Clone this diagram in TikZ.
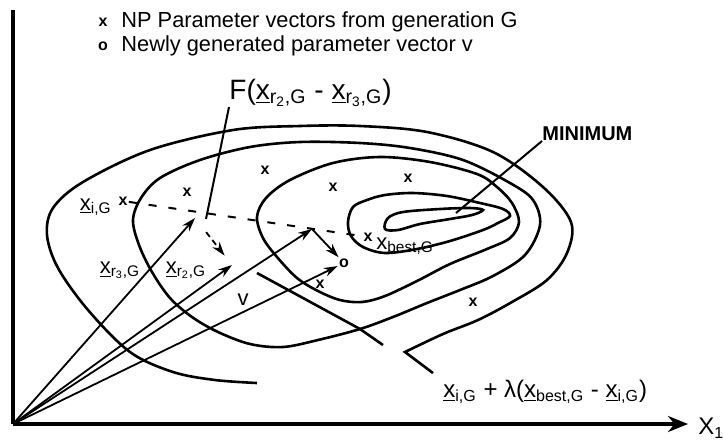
\documentclass[tikz,border=0pt]{standalone}
\usepackage{fontspec}
\setmainfont{Liberation Sans}
\usetikzlibrary{arrows.meta}

\newcommand{\vx}{\underline{x}}

\begin{document}
\begin{tikzpicture}[x=0.5pt, y=-0.5pt, font=\fontsize{11}{13}\selectfont,
  contour/.style={line width=1.3pt},
  vec/.style={line width=0.9pt, -{Stealth[length=7pt, width=4.5pt]}},
  dashline/.style={line width=1pt, dash pattern=on 4pt off 6pt},
  popmark/.style={font=\fontsize{8}{9}\selectfont\bfseries, inner sep=0.5pt},
  lbl/.style={inner sep=0pt}]
\useasboundingbox (0,0) rectangle (723,441);

% axes
\coordinate (O) at (13,424);
\coordinate (ytop) at (13,10);
\coordinate (xend) at (688,424);
\draw[line width=1.7pt] (ytop) -- (O);
\draw[line width=1.7pt, -{Stealth[length=10pt, width=8pt]}] (O) -- (xend);
\node[lbl, anchor=west, font=\fontsize{12}{14}\selectfont] (x1lbl) at (698,428) {X\textsubscript{1}};

% legend
\node[popmark] (legx) at (103,22) {x};
\node[lbl, anchor=west, font=\fontsize{10.9}{12}\selectfont] (leg1) at (121,22) {NP Parameter vectors from generation G};
\node[popmark] (lego) at (103,46) {o};
\node[lbl, anchor=west, font=\fontsize{10.9}{12}\selectfont] (leg2) at (121,46) {Newly generated parameter vector v};

% contour lines
\draw[contour] plot[smooth, tension=0.55] coordinates {(257,383) (215,380) (173,372) (130,352) (88,310) (58,268) (47,235) (53,208) (83,182) (150,150) (233,130) (300,126) (360,126) (427,132) (493,152) (543,187) (571,222) (567,253) (547,280) (512,302) (478,320) (443,334) (405,352)} -- (433,373);
\draw[contour] plot[smooth cycle, tension=0.55] coordinates {(360,329) (393,317) (427,303) (460,290) (493,276) (525,255) (540,225) (533,200) (510,183) (463,160) (410,148) (360,143) (300,142) (250,147) (200,160) (160,178) (141,198) (133,220) (139,245) (152,272) (170,298) (192,317) (218,332) (250,344) (283,347) (318,340)};
\draw[contour] (257,273) -- (360,329) -- (383,345);
\draw[contour] plot[smooth cycle, tension=0.55] coordinates {(257,217) (263,238) (277,257) (297,278) (318,291) (340,300) (362,302) (385,296) (417,281) (450,264) (487,249) (510,238) (519,222) (512,203) (497,187) (477,174) (430,162) (380,157) (333,163) (290,180) (266,198)};
\draw[contour] plot[smooth cycle, tension=0.55] coordinates {(348,222) (353,207) (367,200) (385,195) (413,193) (447,196) (480,203) (503,209) (510,216) (498,223) (483,230) (450,241) (417,249) (385,253) (363,247) (351,236)};
\draw[contour] plot[smooth cycle, tension=0.55] coordinates {(385,229) (388,218) (403,212) (440,209) (470,208) (483,210) (472,215) (450,219) (420,224) (398,230)};

% population of generation G
\foreach \px/\py [count=\k] in {187/192, 265/170, 333/187, 408/178, 473/302, 320/284}
  \node[popmark] (pop\k) at (\px,\py) {x};

% vectors
\node[popmark] (xi) at (123,201) {x};
\node[lbl, anchor=east] (xilbl) at (112,207) {\vx\textsubscript{i,G}};
\coordinate (r3tip) at (195,218);
\coordinate (r2tip) at (232,265);
\node[lbl] (r3lbl) at (120,270) {\vx\textsubscript{r\textsubscript{3},G}};
\node[lbl] (r2lbl) at (186,270) {\vx\textsubscript{r\textsubscript{2},G}};
\node[popmark] (xbest) at (368,237) {x};
\node[lbl, anchor=west] (bestlbl) at (376,246) {x\textsubscript{best,G}};
\coordinate (xmid) at (312,229);
\node[popmark] (v) at (344,263) {o};
\node[lbl] (vlbl) at (243,300) {v};

\draw[dashline] (xi) -- (xbest);
\draw[vec] (O) -- (r3tip);
\draw[vec] (O) -- (r2tip);
\draw[vec] (O) -- (xmid);
\draw[vec] (O) -- (v);
\draw[vec, dash pattern=on 3pt off 2pt, shorten <=9pt, shorten >=6pt] (r3tip) -- (r2tip);
\draw[vec] (xmid) -- (v);

% labels with pointers
\node[lbl, anchor=south west, font=\fontsize{14}{16}\selectfont] (flbl) at (229,107) {F(\vx\textsubscript{r\textsubscript{2},G} - \vx\textsubscript{r\textsubscript{3},G})};
\coordinate (fpt) at (206,219);
\draw[line width=1pt] (flbl.south west) -- (fpt);

\node[lbl, anchor=south west, font=\bfseries\fontsize{10}{12}\selectfont] (minlbl) at (542,141) {MINIMUM};
\coordinate (minpt) at (456,213);
\draw[line width=1pt] (minlbl.south west) -- (minpt);

\node[lbl, anchor=west, font=\fontsize{12}{14}\selectfont] (formlbl) at (443,392) {\vx\textsubscript{i,G} + λ(\vx\textsubscript{best,G} - \vx\textsubscript{i,G})};
\end{tikzpicture}
\end{document}
